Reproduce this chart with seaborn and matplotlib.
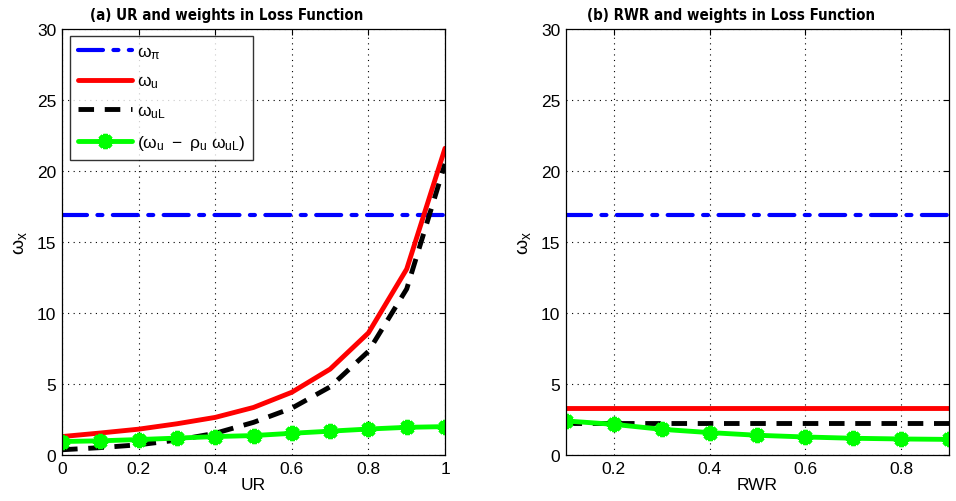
import numpy as np
import pandas as pd
import matplotlib
matplotlib.use("Agg")
import matplotlib.pyplot as plt
import seaborn as sns

sns.set_theme(style="white")
plt.rcParams['font.family'] = ['Liberation Sans', 'DejaVu Sans']
plt.rcParams['text.color'] = 'black'
plt.rcParams['axes.labelcolor'] = 'black'
plt.rcParams['mathtext.fontset'] = 'custom'
plt.rcParams['mathtext.rm'] = 'Liberation Sans'
plt.rcParams['mathtext.it'] = 'Liberation Sans'
plt.rcParams['mathtext.bf'] = 'Liberation Sans:bold'

# ---- data: panel (a) ----
ur = [0.0, 0.1, 0.2, 0.3, 0.4, 0.5, 0.6, 0.7, 0.8, 0.9, 1.0]
ur_w_pi = [16.9] * 11
ur_w_u = [1.3, 1.55, 1.82, 2.2, 2.65, 3.35, 4.42, 6.05, 8.6, 13.1, 21.6]
ur_w_uL = [0.37, 0.52, 0.72, 1.05, 1.53, 2.3, 3.3, 4.8, 7.3, 11.7, 20.5]
ur_comb = [0.95, 1.0, 1.09, 1.19, 1.3, 1.37, 1.53, 1.68, 1.83, 1.95, 2.0]

# ---- data: panel (b) ----
rwr = [0.1, 0.2, 0.3, 0.4, 0.5, 0.6, 0.7, 0.8, 0.9]
rwr_w_pi = [16.9] * 9
rwr_w_u = [3.34] * 9
rwr_w_uL = [2.28] * 9
rwr_comb = [2.4, 2.16, 1.81, 1.58, 1.39, 1.27, 1.18, 1.13, 1.1]

labels = [r'$\omega_\pi$', r'$\omega_u$', r'$\omega_{uL}$',
          r'$(\omega_u\ -\ \rho_u\ \omega_{uL})$']
titles = ['(a) UR and weights in Loss Function', '(b) RWR and weights in Loss Function']
xlabels = ['UR', 'RWR']

fig = plt.figure(figsize=(9.56, 5.02), dpi=100)
ax1 = fig.add_axes([0.0649, 0.0916, 0.4006, 0.8486])
ax2 = fig.add_axes([0.592, 0.0916, 0.4006, 0.8486])

def draw(ax, x, wpi, wu, wuL, comb, title, xlabel, xlim, xticks, legend):
    sns.lineplot(x=x, y=wpi, ax=ax, color='#0000ff', lw=3.0, label=labels[0])
    ax.lines[-1].set_dashes([6, 2.5, 1.2, 2.5])
    ax.lines[-1].set_dash_capstyle('round')
    sns.lineplot(x=x, y=wu, ax=ax, color='#ff0000', lw=3.5, label=labels[1])
    sns.lineplot(x=x, y=wuL, ax=ax, color='black', lw=3.5, label=labels[2])
    ax.lines[-1].set_dashes([3.2, 2.2])
    sns.lineplot(x=x, y=comb, ax=ax, color='#00ff00', lw=3.5, label=labels[3],
                 marker=(8, 2, 0), markersize=11, markeredgewidth=3.2,
                 markeredgecolor='#00ff00')
    ax.set_xlim(*xlim)
    ax.set_ylim(0, 30)
    ax.set_xticks(xticks)
    ax.set_yticks([0, 5, 10, 15, 20, 25, 30])
    ax.set_xticklabels([('%g' % t) for t in xticks])
    ax.grid(True, color='black', linestyle=(0, (1, 4)), linewidth=0.8)
    ax.tick_params(direction='in', top=True, right=True, length=4,
                   labelsize=12.5, colors='black', width=0.8, pad=4)
    for s in ax.spines.values():
        s.set_color('black')
        s.set_linewidth(0.9)
    ax.set_title(title, fontsize=10.8, fontweight='bold',
                 family=['Liberation Sans Narrow', 'DejaVu Sans'],
                 fontstretch='condensed', pad=7, color='black', x=0.43)
    ax.set_xlabel(xlabel, fontsize=12.5, labelpad=1, color='black')
    ax.set_ylabel(r'$\omega_x$', fontsize=14, labelpad=6, color='black')
    if legend:
        leg = ax.legend(loc='upper left', fontsize=12.5, frameon=True, fancybox=False,
                        edgecolor='black', handlelength=3.1, borderpad=0.45,
                        labelspacing=0.75, handletextpad=0.3,
                        bbox_to_anchor=(0.021, 0.984), borderaxespad=0.0)
        leg.get_frame().set_linewidth(1.0)
    else:
        ax.get_legend().remove()

draw(ax1, ur, ur_w_pi, ur_w_u, ur_w_uL, ur_comb, titles[0], xlabels[0],
     (0, 1), [0, 0.2, 0.4, 0.6, 0.8, 1.0], True)
draw(ax2, rwr, rwr_w_pi, rwr_w_u, rwr_w_uL, rwr_comb, titles[1], xlabels[1],
     (0.1, 0.9), [0.2, 0.4, 0.6, 0.8], False)

fig.savefig('out.png', dpi=100)
